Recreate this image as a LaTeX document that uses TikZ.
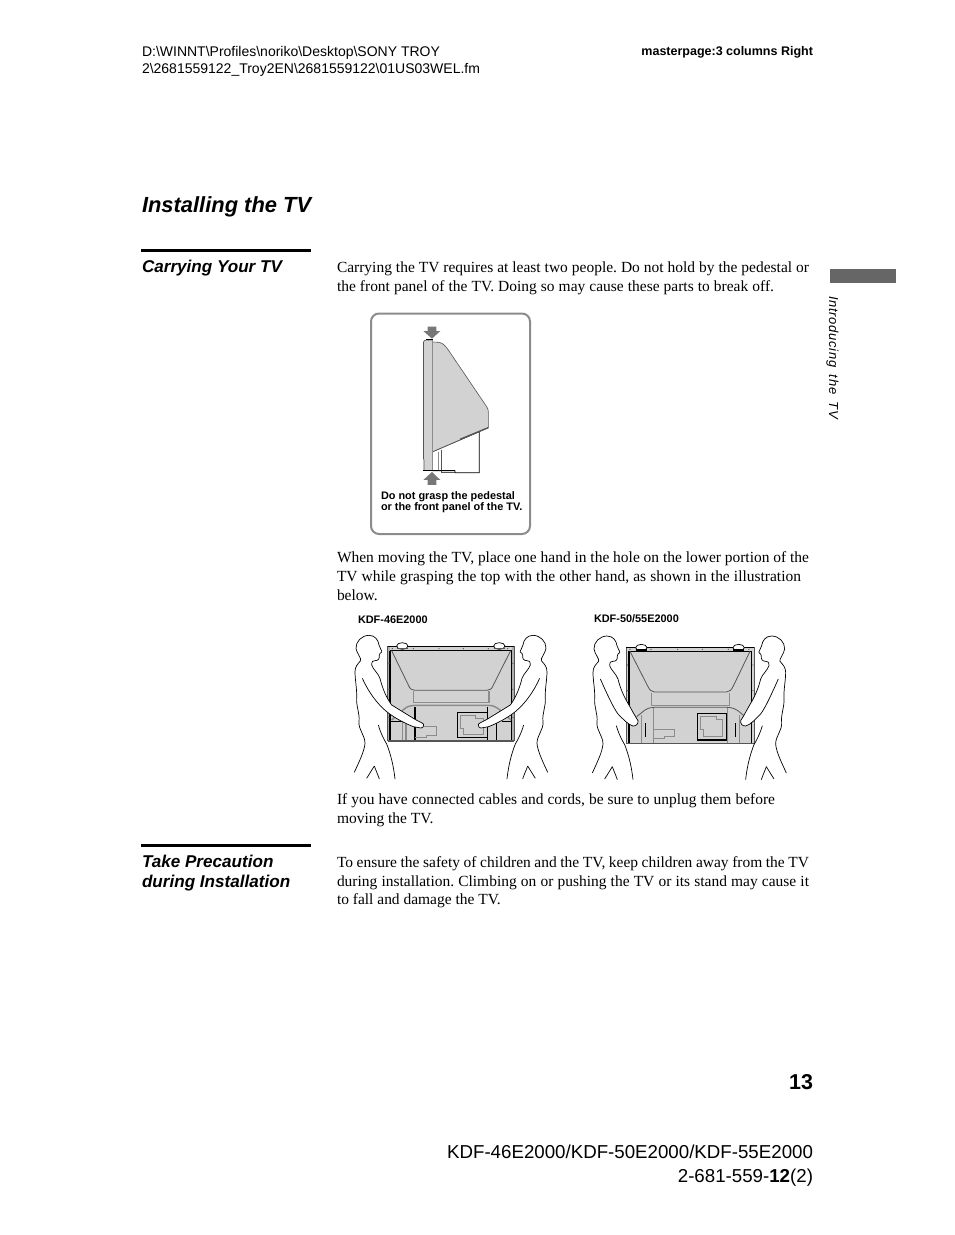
\documentclass[tikz,border=0pt]{standalone}
\usepackage{fontspec}
\setmainfont{Liberation Sans}
\newfontfamily\bodyserif{Liberation Serif}
\definecolor{tvgray}{HTML}{D2D2D2}
\definecolor{lgray}{HTML}{8C8C8C}
\definecolor{dgray}{HTML}{555555}
\definecolor{tabgray}{HTML}{666666}
\definecolor{arrowgray}{HTML}{777777}
\tikzset{
 txt/.style={inner sep=0pt,outer sep=0pt,anchor=base west,text=black},
 txtr/.style={inner sep=0pt,outer sep=0pt,anchor=base east,text=black},
 body/.style={txt,font=\bodyserif\frenchspacing\fontsize{15.47}{18}\selectfont},
 head/.style={txt,font=\fontsize{14}{15}\selectfont},
 sect/.style={txt,font=\bfseries\itshape\fontsize{17.1}{20}\selectfont},
 model/.style={txt,font=\bfseries\fontsize{10.9}{12}\selectfont},
 warn/.style={txt,font=\bfseries\fontsize{10.9}{12}\selectfont},
 foot/.style={txtr,font=\fontsize{18.7}{22}\selectfont},
 rulebar/.style={line width=2.6pt,black},
 figline/.style={line width=.7pt,black},
 gline/.style={line width=1pt,lgray},
 kline/.style={line width=1.1pt,black},
 arrowshape/.style={fill=arrowgray,draw=none},
 zoomed/.style={x=0.3333pt,y=-0.3333pt}
}
\newcommand{\fitline}[2]{\makebox[#1pt][s]{#2}}
\newcommand{\legs}{%
 \draw[figline] (88,468) -- (65,505);
 \draw[figline] (88,468) .. controls (92,480) and (98,492) .. (103,507);
 \draw[figline] (100,345) .. controls (104,360) and (112,380) .. (125,402) .. controls (138,435) and (146,470) .. (150,507);
}
\newcommand{\backhead}{%
 \draw[figline,line join=round] (28,487) .. controls (40,460) and (58,425) .. (60,400)
   .. controls (60,375) and (40,360) .. (42,335) .. controls (45,310) and (33,290) .. (35,262)
   .. controls (36,235) and (30,210) .. (30,185) .. controls (30,170) and (38,162) .. (47,152)
   .. controls (50,145) and (35,130) .. (33,115) .. controls (32,95) and (50,76) .. (72,76)
   .. controls (90,76) and (100,90) .. (102,105) .. controls (104,115) and (112,122) .. (110,126)
   .. controls (106,130) and (103,130) .. (103,136) .. controls (104,146) and (100,152) .. (90,152)
   .. controls (84,150) and (80,155) .. (80,165);
}
\newcommand{\longarm}{%
 \filldraw[figline,fill=white,line join=round] (80,165) .. controls (85,180) and (100,190) .. (105,205)
   .. controls (112,235) and (125,265) .. (140,285) -- (210,328) .. controls (222,335) and (232,338) .. (236,343)
   .. controls (236,350) and (234,354) .. (228,354) -- (205,350) .. controls (180,340) and (150,325) .. (125,305)
   .. controls (95,280) and (70,245) .. (52,205);
}
\newcommand{\shortarm}{%
 \filldraw[figline,fill=white,line join=round] (80,165) .. controls (85,180) and (100,190) .. (105,205)
   .. controls (112,235) and (125,262) .. (135,278) .. controls (145,295) and (155,315) .. (165,330)
   .. controls (166,340) and (160,346) .. (150,346) .. controls (135,342) and (120,325) .. (105,310)
   .. controls (90,290) and (70,245) .. (52,205);
}
\begin{document}
\begin{tikzpicture}[x=1pt,y=-1pt]
\useasboundingbox[fill=white] (0,0) rectangle (954,1235);
% header
\node[head] (h1) at (142,56) {D:\textbackslash WINNT\textbackslash Profiles\textbackslash noriko\textbackslash Desktop\textbackslash SONY TROY};
\node[head] (h2) at (142,73) {2\textbackslash 2681559122\_Troy2EN\textbackslash 2681559122\textbackslash 01US03WEL.fm};
\node[txtr,font=\bfseries\fontsize{12.5}{14}\selectfont] (mp) at (813,55) {masterpage:3 columns Right};
% title
\node[txt,font=\bfseries\itshape\fontsize{21.9}{24}\selectfont] (title) at (142,212) {Installing the TV};
\draw[rulebar] (141,250.5) -- (311,250.5);
\draw[rulebar] (141,845.5) -- (311,845.5);
\node[sect] (s1) at (142,272) {Carrying Your TV};
\node[sect] (s2a) at (142,867) {Take Precaution};
\node[sect] (s2b) at (142,887) {during Installation};
% side tab
\fill[tabgray] (830,269) rectangle (896,283);
\node[txt,rotate=-90,font=\itshape\fontsize{13}{14}\selectfont\addfontfeature{LetterSpace=5.5}] (side) at (829,296) {Introducing\hspace{3pt} the\hspace{3pt} TV};
% body
\node[body] (b1) at (337,272) {\fitline{472}{Carrying the TV requires at least two people. Do not hold by the pedestal or}};
\node[body] (b2) at (337,291) {\fitline{437}{the front panel of the TV. Doing so may cause these parts to break off.}};
\node[body] (b3) at (337,562) {\fitline{472}{When moving the TV, place one hand in the hole on the lower portion of the}};
\node[body] (b4) at (337,581) {\fitline{464}{TV while grasping the top with the other hand, as shown in the illustration}};
\node[body] (b5) at (337,600) {below.};
\node[body] (b6) at (337,804) {\fitline{438}{If you have connected cables and cords, be sure to unplug them before}};
\node[body] (b7) at (337,823) {moving the TV.};
\node[body] (b8) at (337,867) {\fitline{472}{To ensure the safety of children and the TV, keep children away from the TV}};
\node[body] (b9) at (337,886) {\fitline{472}{during installation. Climbing on or pushing the TV or its stand may cause it}};
\node[body] (b10) at (337,904) {to fall and damage the TV.};
% warning panel
\draw[line width=2pt,draw=lgray,rounded corners=8pt] (371,313.5) rectangle (530,534);
\begin{scope}[shift={(360,305)},zoomed]
 \draw[line width=.7pt,black,fill=white] (218,440) -- (358,380) -- (358,503) -- (285,503) -- (285,497) -- (218,497) -- cycle;
 \fill[white] (219,442) rectangle (245,496);
 \draw[gline] (235,440) -- (235,495);
 \draw[gline] (245,435) -- (245,495);
 \draw[line width=.7pt,dgray] (245,435) -- (245,503) -- (285,503);
 \filldraw[line width=.6pt,draw=dgray,fill=tvgray] (218,111) -- (238,112) .. controls (250,115) and (258,125) .. (265,135) -- (380,305) .. controls (384,312) and (385,315) .. (385,320) -- (385,368) -- (218,440) -- cycle;
 \draw[line width=1.4pt,dgray] (300,403) -- (385,368);
 \filldraw[line width=.6pt,draw=dgray,fill=tvgray] (190,112) .. controls (190,107) and (195,105) .. (200,105) -- (218,105) -- (218,497) -- (192,497) -- (192,465) -- (190,460) -- cycle;
 \draw[line width=1pt,lgray] (218,105) -- (218,497);
 \draw[line width=1.2pt,dgray] (191,112) -- (191,462);
 \draw[line width=1pt,black] (197,104) -- (218,104);
 \draw[line width=1pt,black] (190,497) -- (285,497);
 \fill[arrowshape] (203,65) -- (229,65) -- (229,78) -- (241,78) -- (216,101) -- (190,78) -- (203,78) -- cycle;
 \fill[arrowshape] (216,501) -- (241,525) -- (229,525) -- (229,540) -- (203,540) -- (203,525) -- (190,525) -- cycle;
\end{scope}
\node[warn] (w1) at (381,499) {Do not grasp the pedestal};
\node[warn] (w2) at (381,510) {or the front panel of the TV.};
% model labels
\node[model] (m1) at (358,623) {KDF-46E2000};
\node[model] (m2) at (594,622) {KDF-50/55E2000};
% left illustration
\begin{scope}[shift={(345,610)},zoomed]
 \fill[tvgray] (128,110) rectangle (508,393);
 \fill[lgray!70] (128,110) rectangle (135,393);
 \fill[lgray!70] (500,110) rectangle (508,393);
 \draw[line width=1pt,dgray] (128,110) rectangle (508,393);
 \draw[kline,line width=1.3pt] (128,109) -- (508,109);
 \draw[kline] (135,122) -- (500,122);
 \draw[kline] (135,122) -- (135,390);
 \draw[kline] (500,122) -- (500,390);
 \filldraw[figline,fill=white] (172,108) ellipse (17 and 10);
 \filldraw[figline,fill=white] (463,108) ellipse (17 and 10);
 \draw[line width=1.3pt,dgray] (155,115) -- (190,115);
 \draw[line width=1.3pt,dgray] (446,115) -- (480,115);
 \draw[line width=.8pt,dgray] (140,122) -- (190,225) .. controls (195,238) and (200,240) .. (210,241) -- (425,241) .. controls (435,240) and (440,238) .. (445,225) -- (497,122);
 \draw[gline,line width=1.5pt] (205,243) -- (205,278) -- (432,278) -- (432,243);
 \draw[gline,line width=1.5pt] (140,330) -- (180,295) .. controls (190,288) and (200,286) .. (210,286) -- (430,286) .. controls (445,286) and (455,292) .. (465,300) -- (498,330);
 \draw[kline] (137,335) -- (170,335);
 \draw[kline] (137,335) -- (137,390);
 \draw[kline] (470,335) -- (498,335);
 \draw[kline] (210,290) -- (210,393);
 \draw[kline] (427,290) -- (427,393);
 \draw[kline] (455,330) -- (455,393);
 \draw[gline,line width=1.5pt] (172,335) -- (172,393);
 \draw[gline,line width=1.5pt] (183,335) -- (183,393);
 \draw[kline,line width=1.4pt] (337,307) rectangle (427,383);
 \draw[gline] (347,317) -- (392,317) -- (392,325) -- (417,325) -- (417,375) -- (355,375) -- (355,355) -- (347,355) -- cycle;
 \draw[gline] (210,350) -- (275,350) -- (275,378) -- (245,378) -- (245,382) -- (210,382);
 \draw[line width=1.5pt,dgray] (128,393) -- (508,393);
 \foreach \px in {142,205,282,355,430,488}{\fill[dgray] (\px,116) circle (2);}
 \foreach \py in {160,238,322}{\fill[dgray] (132,\py) circle (2); \fill[dgray] (504,\py) circle (2);}
 \legs \backhead \longarm
 \begin{scope}[shift={(636,0)},xscale=-1]
  \legs \backhead \longarm
 \end{scope}
\end{scope}
% right illustration
\begin{scope}[shift={(585,610)},zoomed]
 \fill[tvgray] (124,113) rectangle (508,400);
 \draw[line width=1pt,dgray] (124,113) rectangle (508,400);
 \draw[kline,line width=1.4pt] (124,113) -- (508,113);
 \draw[kline] (132,124) -- (500,124);
 \draw[kline] (132,124) -- (132,398);
 \draw[kline] (500,124) -- (500,398);
 \filldraw[figline,fill=white] (169,113) ellipse (17 and 10);
 \filldraw[figline,fill=white] (461,113) ellipse (17 and 10);
 \draw[line width=1.3pt,black] (152,120) -- (187,120);
 \draw[line width=1.3pt,black] (444,120) -- (478,120);
 \draw[line width=.8pt,dgray] (135,124) -- (188,228) .. controls (194,240) and (198,245) .. (208,246) -- (425,246) .. controls (433,245) and (440,240) .. (445,228) -- (495,124);
 \draw[line width=.8pt,lgray] (199,248) -- (199,285) -- (432,285) -- (432,248);
 \draw[line width=.8pt,dgray] (155,320) -- (180,300) .. controls (190,294) and (198,292) .. (208,292) -- (425,292) .. controls (440,292) and (450,296) .. (460,303) -- (480,320);
 \draw[line width=.8pt,lgray] (170,315) -- (170,398);
 \draw[line width=.8pt,lgray] (204,295) -- (204,398);
 \draw[line width=.8pt,lgray] (427,295) -- (427,398);
 \draw[line width=.8pt,lgray] (462,315) -- (462,398);
 \draw[kline,line width=1.2pt] (182,340) -- (182,382);
 \draw[kline,line width=1.2pt] (451,340) -- (451,382);
 \draw[kline,line width=1.4pt] (337,310) rectangle (425,390);
 \draw[gline] (347,320) -- (395,320) -- (395,328) -- (412,328) -- (412,380) -- (355,380) -- (355,358) -- (347,358) -- cycle;
 \draw[gline] (205,358) -- (270,358) -- (270,380) -- (240,380) -- (240,385) -- (205,385);
 \foreach \px in {135,198,278,352,430,492}{\fill[dgray] (\px,118) circle (2);}
 \foreach \py in {165,242,325}{\fill[dgray] (128,\py) circle (2); \fill[dgray] (504,\py) circle (2);}
 \begin{scope}[shift={(-6,2)}]
  \legs \backhead \shortarm
 \end{scope}
 \begin{scope}[shift={(632,2)},xscale=-1]
  \legs \backhead \shortarm
 \end{scope}
\end{scope}
% footer
\node[txtr,font=\bfseries\fontsize{21.5}{24}\selectfont] (pg) at (813,1089) {13};
\node[foot] (f1) at (813,1158) {KDF-46E2000/KDF-50E2000/KDF-55E2000};
\node[foot] (f2) at (813,1182) {2-681-559-\textbf{12}(2)};
\end{tikzpicture}
\end{document}
